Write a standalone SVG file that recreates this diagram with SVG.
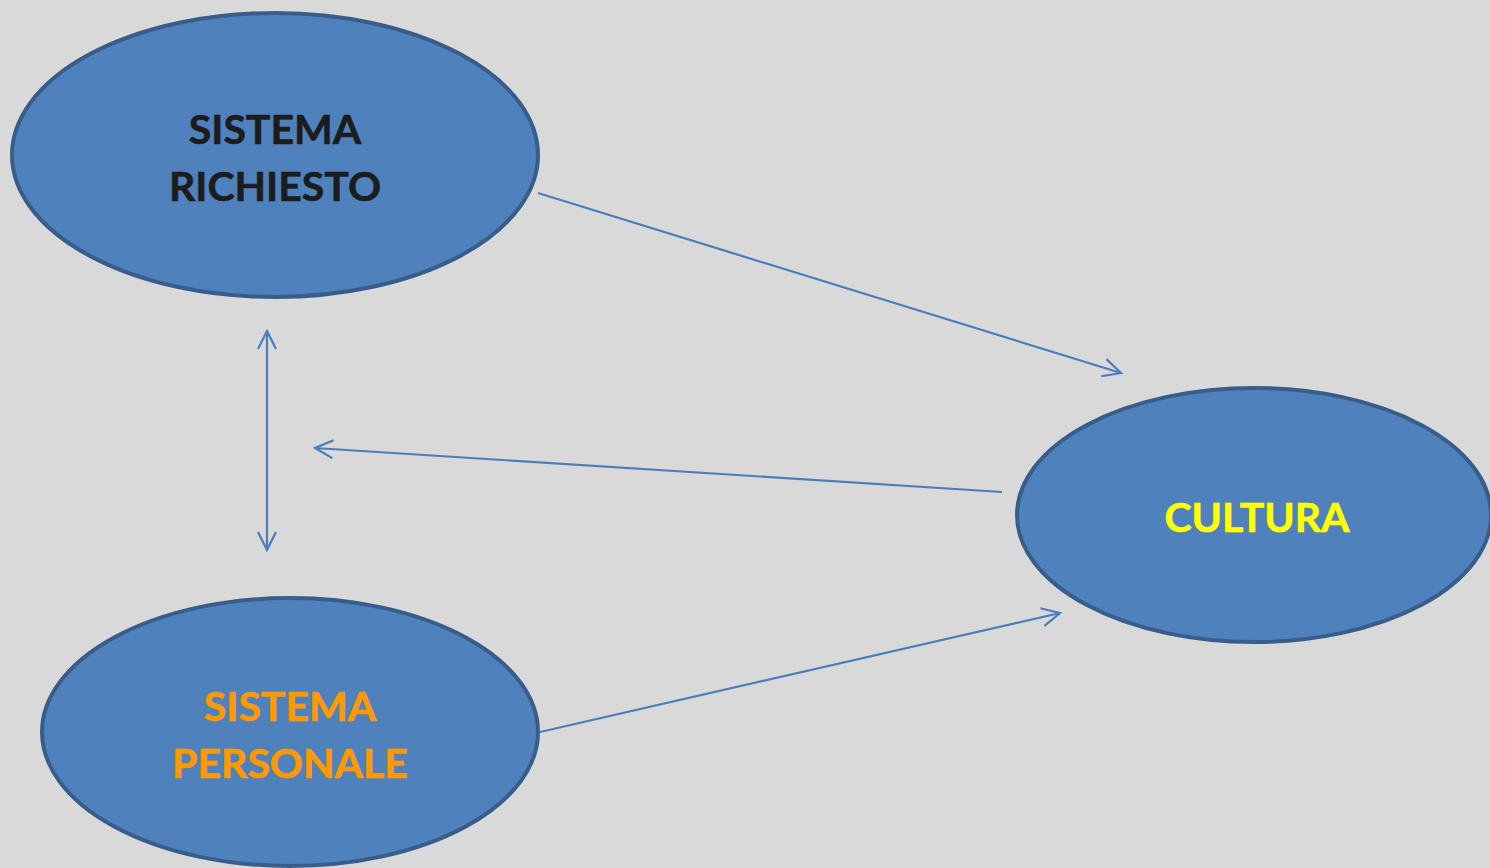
<svg xmlns="http://www.w3.org/2000/svg" width="1490" height="868" viewBox="0 0 1490 868">
<defs>
<style>
.node{fill:#4f81bd;stroke:#385d8a;stroke-width:4}
.lbl{font-family:Lato,"Open Sans","Liberation Sans",sans-serif;font-weight:bold;font-size:41px;text-anchor:middle;stroke-width:0.6px}
.conn{stroke:#4a7ebb;stroke-width:2.2;fill:none}
</style>
<marker id="ah" viewBox="-20 -10 22 20" refX="0" refY="0" markerWidth="22" markerHeight="20" markerUnits="userSpaceOnUse" orient="auto-start-reverse">
<path d="M-18,-9 L0,0 L-18,9" fill="none" stroke="#4a7ebb" stroke-width="2.2"/>
</marker>
</defs>
<rect width="1490" height="868" fill="#d9d9d9"/>
<g id="sistema-richiesto">
<ellipse class="node" cx="275" cy="155" rx="263" ry="142"/>
<text class="lbl" fill="#1c1c1c" stroke="#1c1c1c" x="275" y="144">SISTEMA</text>
<text class="lbl" fill="#1c1c1c" stroke="#1c1c1c" x="275" y="201">RICHIESTO</text>
</g>
<g id="sistema-personale">
<ellipse class="node" cx="290" cy="732" rx="248" ry="134"/>
<text class="lbl" fill="#ff9900" stroke="#ff9900" x="290" y="721">SISTEMA</text>
<text class="lbl" fill="#ff9900" stroke="#ff9900" x="290" y="778">PERSONALE</text>
</g>
<g id="cultura">
<ellipse class="node" cx="1254" cy="515" rx="237" ry="127"/>
<text class="lbl" fill="#ffff00" stroke="#ffff00" x="1257" y="532">CULTURA</text>
</g>
<g id="connectors">
<line class="conn" x1="538" y1="193" x2="1121" y2="373" marker-end="url(#ah)"/>
<line class="conn" x1="1002" y1="492" x2="315" y2="448" marker-end="url(#ah)"/>
<line class="conn" x1="267" y1="331" x2="267" y2="550" marker-start="url(#ah)" marker-end="url(#ah)"/>
<line class="conn" x1="540" y1="732" x2="1060" y2="613" marker-end="url(#ah)"/>
</g>
</svg>
